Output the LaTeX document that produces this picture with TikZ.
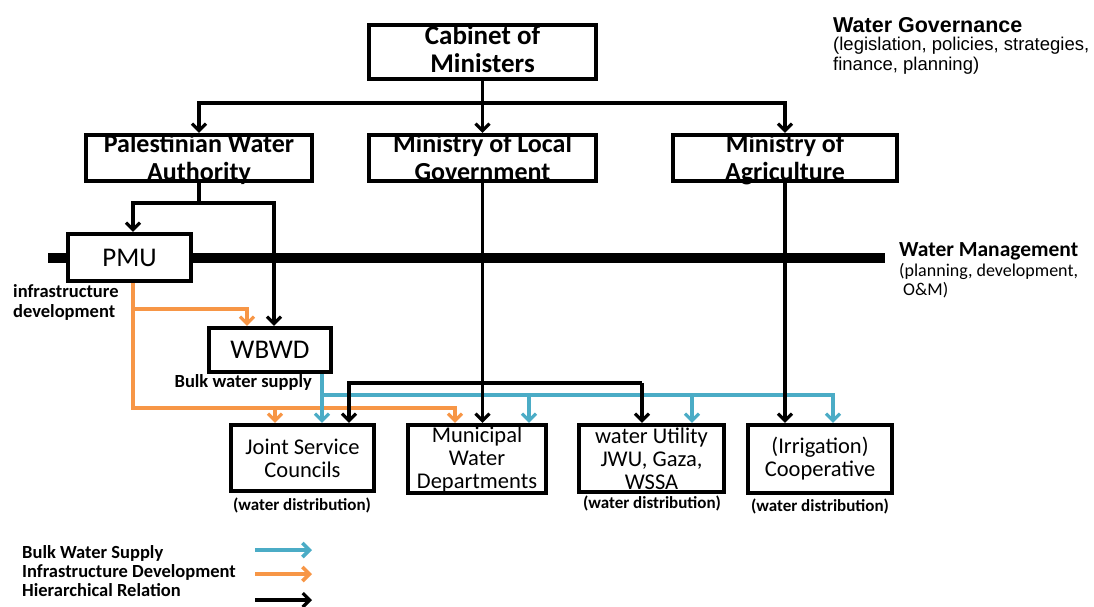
\documentclass[tikz,border=0pt]{standalone}
\usepackage{fontspec}
\setmainfont{Carlito}
\newfontfamily\arialf{Liberation Sans}
\usetikzlibrary{arrows.meta}
\definecolor{bluew}{RGB}{75,172,198}
\definecolor{orangew}{RGB}{247,150,70}
\begin{document}
\begin{tikzpicture}[x=1pt,y=-1pt,
  box/.style={draw, line width=4.2pt, fill=white, inner sep=0pt, align=center},
  topbox/.style={box, font=\bfseries\fontsize{26}{28}\selectfont, text height=45pt, text depth=1pt},
  lowbox/.style={box, font=\fontsize{22.5}{23}\selectfont},
  tip/.style={-{Straight Barb[length=7pt,width=14pt]}},
  hier/.style={line width=3.2pt, black},
  infra/.style={line width=3.2pt, orangew},
  bulk/.style={line width=3.2pt, bluew},
  small/.style={font=\bfseries\fontsize{17}{20}\selectfont, inner sep=0pt},
  legtext/.style={font=\bfseries\fontsize{18.5}{20}\selectfont, inner sep=0pt},
]
\useasboundingbox (0,0) rectangle (1094,606);

% management bar
\coordinate (barL) at (48,258);
\coordinate (barR) at (885,258);
\draw[line width=10pt] (barL) -- (barR);

% boxes
\node[box, font=\bfseries\fontsize{27}{28}\selectfont, text height=46pt, text depth=6pt, minimum width=227pt, minimum height=54pt] (cab) at (482.5,52) {Cabinet of\\Ministers};
\node[topbox, minimum width=226pt, minimum height=46pt] (pwa) at (199,158) {Palestinian Water\\Authority};
\node[topbox, minimum width=227pt, minimum height=46pt] (mlg) at (482.5,158) {Ministry of Local\\Government};
\node[topbox, minimum width=224pt, minimum height=46pt] (moa) at (785,158) {Ministry of\\Agriculture};
\node[box, font=\fontsize{27}{28}\selectfont, minimum width=123pt, minimum height=47pt] (pmu) at (129.5,257.5) {PMU};
\node[box, font=\fontsize{27}{28}\selectfont, minimum width=122pt, minimum height=44pt] (wbwd) at (270,350) {WBWD};
\node[lowbox, minimum width=143pt, minimum height=66pt] (jsc) at (302.5,458) {Joint Service\\Councils};
\node[lowbox, minimum width=138pt, minimum height=68pt] (mwd) at (477,459) {Municipal\\Water\\Departments};
\node[lowbox, minimum width=145pt, minimum height=67pt] (utl) at (651.5,458.5) {water Utility\\JWU, Gaza,\\WSSA};
\node[lowbox, minimum width=144pt, minimum height=68pt] (coop) at (820,459) {(Irrigation)\\Cooperative};

% hierarchical: cabinet to ministries
\coordinate (cj) at (482.5,103);
\draw[hier] (cab.south) -- (cj);
\draw[hier,tip] (cj) -- (mlg.north);
\draw[hier,tip] (cj) -| (pwa.north);
\draw[hier,tip] (cj) -| (moa.north);

% PWA to PMU and WBWD
\coordinate (pj) at (199,203);
\coordinate (pl) at (133,203);
\coordinate (pr) at (274,203);
\draw[hier] (pwa.south) -- (pj);
\draw[hier,tip] (pj) -- (pl) -- (pl |- pmu.north);
\draw[hier,tip] (pj) -- (pr) -- (pr |- wbwd.north);

% infrastructure development (orange)
\coordinate (o0) at (133,309);
\coordinate (o1) at (247,309);
\coordinate (o2) at (133,408);
\coordinate (o3) at (275,408);
\coordinate (o4) at (455,408);
\draw[infra,tip] (o0 |- pmu.south) -- (o2) -- (o4) -- (o4 |- mwd.north);
\draw[infra,tip] (o0) -- (o1) -- (o1 |- wbwd.north);
\draw[infra,tip] (o3) -- (o3 |- jsc.north);

% bulk water supply (blue)
\coordinate (b0) at (322,395);
\coordinate (b1) at (529,395);
\coordinate (b2) at (692,395);
\coordinate (b3) at (833,395);
\draw[bulk,tip] (b0 |- wbwd.south) -- (b0 |- jsc.north);
\draw[bulk,tip] (b0) -- (b3) -- (b3 |- coop.north);
\draw[bulk,tip] (b1) -- (b1 |- mwd.north);
\draw[bulk,tip] (b2) -- (b2 |- utl.north);

% hierarchical: ministries to operators
\coordinate (h0) at (349,383);
\coordinate (h1) at (642,383);
\draw[hier,tip] (mlg.south) -- (mlg.south |- mwd.north);
\draw[hier,tip] (h1) -- (h0) -- (h0 |- jsc.north);
\draw[hier,tip] (h1) -- (h1 |- utl.north);
\draw[hier,tip] (moa.south) -- (moa.south |- coop.north);

% labels
\node[legtext, anchor=base west, align=left] (infl) at (13,317) {infrastructure\\development};
\node[legtext, anchor=base east] (bwl) at (312,387) {Bulk water supply};
\node[small, anchor=base] (wd1) at (302,510) {(water distribution)};
\node[small, anchor=base] (wd2) at (652,508) {(water distribution)};
\node[small, anchor=base] (wd3) at (820,511) {(water distribution)};

% governance / management
\node[anchor=base west, inner sep=0pt, font=\arialf\bfseries\fontsize{21.5}{22}\selectfont] (gov) at (833,32) {Water Governance};
\node[anchor=base west, inner sep=0pt, align=left, font=\arialf\fontsize{18.5}{20}\selectfont] (govd) at (833,70) {(legislation, policies, strategies,\\finance, planning)};
\node[anchor=base west, inner sep=0pt, font=\bfseries\fontsize{21.5}{22}\selectfont] (man) at (899,256) {Water Management};
\node[anchor=base west, inner sep=0pt, align=left, font=\fontsize{18}{19}\selectfont] (mand) at (899,295) {(planning, development,\\\hspace{4pt}O\&M)};

% legend
\node[legtext, anchor=base west] (lg1) at (22,558) {Bulk Water Supply};
\node[legtext, anchor=base west] (lg2) at (22,577) {Infrastructure Development};
\node[legtext, anchor=base west] (lg3) at (22,596) {Hierarchical Relation};
\coordinate (la1) at (255,550); \coordinate (lb1) at (312,550);
\coordinate (la2) at (255,574); \coordinate (lb2) at (312,574);
\coordinate (la3) at (255,600); \coordinate (lb3) at (312,600);
\draw[bulk, line width=3.6pt, tip] (la1) -- (lb1);
\draw[infra, line width=3.6pt, tip] (la2) -- (lb2);
\draw[hier, tip] (la3) -- (lb3);
\end{tikzpicture}
\end{document}
